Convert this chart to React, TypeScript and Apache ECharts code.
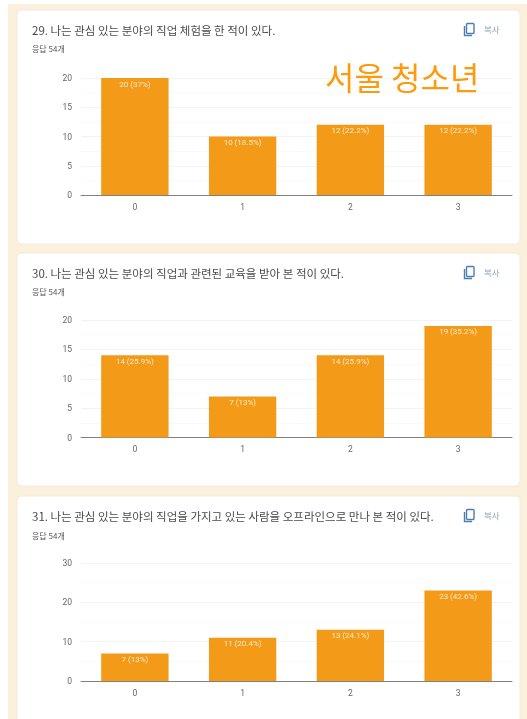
import React, { useEffect, useRef } from "react";
import * as echarts from "echarts";

const categories = ["0", "1", "2", "3"];
const values29 = [20, 10, 12, 12];
const labels29 = ["20 (37%)", "10 (18.5%)", "12 (22.2%)", "12 (22.2%)"];
const values30 = [14, 7, 14, 19];
const labels30 = ["14 (25.9%)", "7 (13%)", "14 (25.9%)", "19 (35.2%)"];
const values31 = [7, 11, 13, 23];
const labels31 = ["7 (13%)", "11 (20.4%)", "13 (24.1%)", "23 (42.6%)"];
const titles = [
  "29. 나는 관심 있는 분야의 직업 체험을 한 적이 있다.",
  "30. 나는 관심 있는 분야의 직업과 관련된 교육을 받아 본 적이 있다.",
  "31. 나는 관심 있는 분야의 직업을 가지고 있는 사람을 오프라인으로 만나 본 적이 있다.",
];
const responses = "응답 54개";
const copyLabel = "복사";
const overlay = "서울 청소년";
const FONT = '"Noto Sans CJK KR", "Noto Sans", sans-serif';

const charts = [
  { values: values29, labels: labels29, max: 20, interval: 5, top: 78, bottom: 195, titleY: 30, subY: 48, cardY: 10, cardH: 234 },
  { values: values30, labels: labels30, max: 20, interval: 5, top: 320, bottom: 437.5, titleY: 273, subY: 291, cardY: 253, cardH: 233 },
  { values: values31, labels: labels31, max: 30, interval: 10, top: 563, bottom: 681, titleY: 516, subY: 535, cardY: 496, cardH: 240 },
];

export default function App() {
  const ref = useRef<HTMLDivElement>(null);
  useEffect(() => {
    document.body.style.margin = "0";
    const chart = echarts.init(ref.current!, null, { renderer: "svg" });
    const left = 81;
    const right = 15;
    const graphic: any[] = [
      { type: "rect", silent: true, z: -10, shape: { x: 8, y: 4, width: 519, height: 715 }, style: { fill: "#FBF0DC" } },
    ];
    charts.forEach((c, i) => {
      graphic.push(
        { type: "rect", z: -9, silent: true, shape: { x: 17, y: c.cardY, width: 503, height: c.cardH, r: 5 }, style: { fill: "#FFFFFF", stroke: "#F3EBDD", lineWidth: 1 } },
        { type: "text", z: 5, x: 32, y: c.titleY, style: { text: titles[i], font: `11.5px ${FONT}`, fill: "#4a4a4a", textVerticalAlign: "middle" } },
        { type: "text", z: 5, x: 32, y: c.subY, style: { text: responses, font: `8px ${FONT}`, fill: "#555555", textVerticalAlign: "middle" } },
        { type: "text", z: 5, x: 484, y: c.titleY - 1, style: { text: copyLabel, font: `8.5px ${FONT}`, fill: "#8aa5c2", textVerticalAlign: "middle" } },
        { type: "rect", z: 5, shape: { x: 466.5, y: c.titleY - 6.5, width: 7.5, height: 10, r: 1 }, style: { fill: "transparent", stroke: "#4a7db5", lineWidth: 1.4 } },
        { type: "polyline", z: 5, shape: { points: [[464.5, c.titleY - 4], [464.5, c.titleY + 5.5], [472, c.titleY + 5.5]] }, style: { fill: "transparent", stroke: "#4a7db5", lineWidth: 1.4 } },
      );
    });
    graphic.push({ type: "text", z: 10, x: 325, y: 76, style: { text: overlay, font: `32px ${FONT}`, fill: "#FF9A0D", textVerticalAlign: "middle" } });

    chart.setOption({
      animation: false,
      backgroundColor: "#FFFFFF",
      graphic,
      grid: charts.map((c) => ({ left, right, top: c.top, height: c.bottom - c.top, containLabel: false })),
      xAxis: charts.map((_, i) => ({
        type: "category",
        gridIndex: i,
        data: categories,
        axisTick: { show: false },
        axisLine: { lineStyle: { color: "#808080", width: 1 } },
        axisLabel: { color: "#666666", fontSize: 8.5, margin: 7, fontFamily: "Roboto" },
      })),
      yAxis: charts.map((c, i) => ({
        type: "value",
        gridIndex: i,
        min: 0,
        max: c.max,
        interval: c.interval,
        axisLine: { show: false },
        axisTick: { show: false },
        minorTick: { show: false, splitNumber: 2 },
        splitLine: { lineStyle: { color: "#F3F3F3", width: 1 } },
        minorSplitLine: { show: true, lineStyle: { color: "#FAFAFA", width: 1 } },
        axisLabel: { color: "#666666", fontSize: 8.5, margin: 9, fontFamily: "Roboto" },
      })),
      series: charts.map((c, i) => ({
        type: "bar",
        xAxisIndex: i,
        yAxisIndex: i,
        data: c.values,
        barWidth: "62.5%",
        itemStyle: { color: "#F39A19" },
        label: {
          show: true,
          position: "insideTop",
          distance: 2,
          color: "#FFEBCB",
          fontSize: 8,
          fontFamily: "Roboto",
          formatter: (p: any) => c.labels[p.dataIndex],
        },
      })),
    });
    return () => chart.dispose();
  }, []);
  return <div ref={ref} style={{ width: 527, height: 719, filter: "blur(0.5px)" }} />;
}
